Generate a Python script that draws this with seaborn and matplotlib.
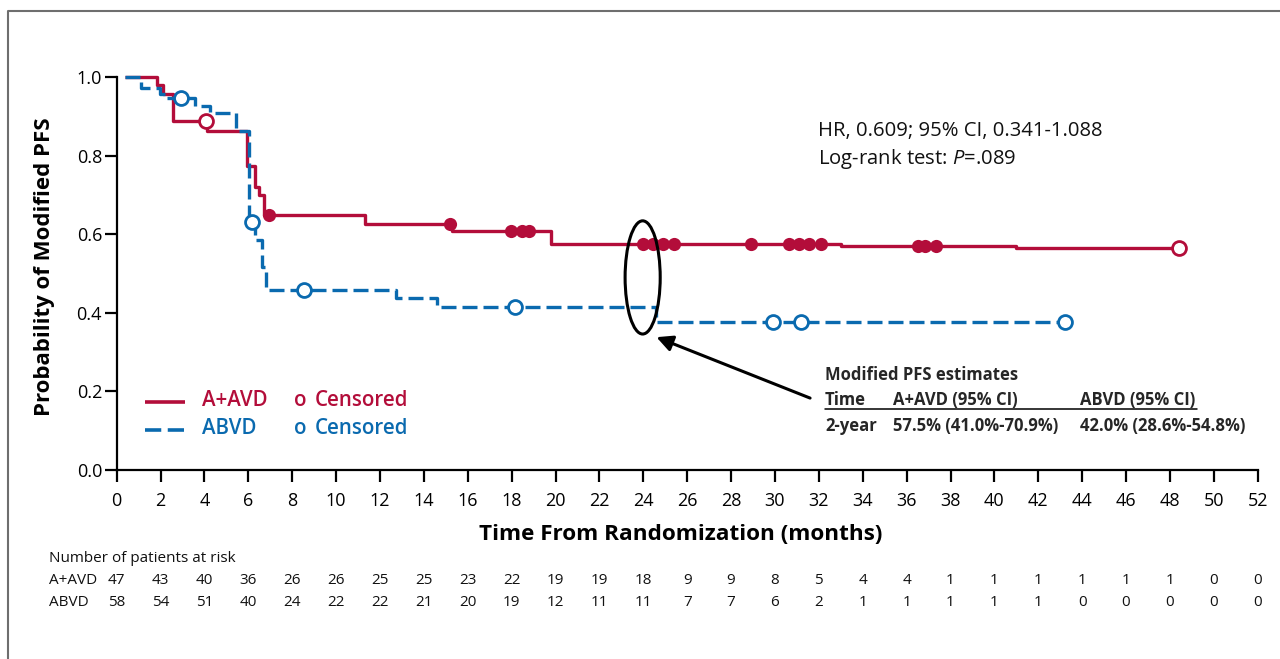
import numpy as np
import pandas as pd
import matplotlib
matplotlib.use("Agg")
import matplotlib.pyplot as plt
import matplotlib.transforms as mtrans
from matplotlib.lines import Line2D
from matplotlib.patches import Ellipse
import seaborn as sns

# ---------------- data ----------------
arms = ["A+AVD", "ABVD"]

aavd_time = [0.4, 1.85, 2.1, 2.55, 4.1, 5.95, 6.3, 6.5, 6.7, 11.3, 15.3, 19.8, 33.0, 41.0]
aavd_surv = [1.0, 0.979, 0.957, 0.888, 0.863, 0.774, 0.721, 0.700, 0.649, 0.627, 0.607, 0.575, 0.570, 0.564]
aavd_cens_filled = [6.95, 15.2, 17.95, 18.45, 18.8, 24.0, 24.45, 24.9, 25.4, 28.9,
                    30.65, 31.1, 31.55, 32.1, 36.5, 36.85, 37.35]
aavd_cens_open = [4.05, 48.4]

abvd_time = [0.4, 1.13, 1.96, 2.3, 3.55, 4.23, 5.43, 6.04, 6.3, 6.6, 6.8, 12.75, 14.6, 24.6]
abvd_surv = [1.0, 0.971, 0.958, 0.946, 0.926, 0.908, 0.863, 0.632, 0.585, 0.517, 0.458, 0.437, 0.415, 0.377]
abvd_cens_open = [2.94, 6.15, 8.55, 18.15, 29.9, 31.2, 43.2]

risk_times = list(range(0, 53, 2))
risk_aavd = [47, 43, 40, 36, 26, 26, 25, 25, 23, 22, 19, 19, 18, 9, 9, 8, 5, 4, 4, 1, 1, 1, 1, 1, 1, 0, 0]
risk_abvd = [58, 54, 51, 40, 24, 22, 22, 21, 20, 19, 12, 11, 11, 7, 7, 6, 2, 1, 1, 1, 1, 1, 0, 0, 0, 0, 0]

x_ticks = list(range(0, 53, 2))
y_ticks = [0.0, 0.2, 0.4, 0.6, 0.8, 1.0]

stats_lines = ["HR, 0.609; 95% CI, 0.341-1.088", "Log-rank test: $\\mathit{P}$=.089"]
table_title = "Modified PFS estimates"
table_header = ["Time", "A+AVD (95% CI)", "ABVD (95% CI)"]
table_row = ["2-year", "57.5% (41.0%-70.9%)", "42.0% (28.6%-54.8%)"]

# ---------------- style ----------------
sns.set_theme(style="ticks")
plt.rcParams["font.family"] = ["Open Sans", "DejaVu Sans"]
plt.rcParams["mathtext.fontset"] = "custom"
plt.rcParams["mathtext.rm"] = "Open Sans"
plt.rcParams["mathtext.it"] = "Open Sans:italic"

RED = "#B30D3A"
BLUE = "#0A6AAF"
W, H = 1280, 659

def px(x, y):
    return x / W, 1 - y / H

fig = plt.figure(figsize=(W / 100, H / 100), dpi=100)
fig.patch.set_facecolor("white")
ax = fig.add_axes([116.7 / W, 1 - 470 / H, (1257.7 - 116.7) / W, 393 / H])
ax.set_facecolor("white")

def step_frame(arm, t, s, last):
    tt = list(t) + [last]
    ss = list(s) + [s[-1]]
    return pd.DataFrame({"t": tt, "s": ss, "arm": arm})

df = pd.concat([
    step_frame("A+AVD", aavd_time, aavd_surv, max(aavd_cens_filled + aavd_cens_open)),
    step_frame("ABVD", abvd_time, abvd_surv, max(abvd_cens_open)),
], ignore_index=True)

sns.lineplot(data=df, x="t", y="s", hue="arm", style="arm", hue_order=arms,
             palette={"A+AVD": RED, "ABVD": BLUE},
             dashes={"A+AVD": "", "ABVD": (4.5, 1.8)},
             drawstyle="steps-post", linewidth=2.4, legend=False,
             estimator=None, sort=True, ax=ax)
for ln in ax.lines:
    ln.set_clip_on(False)
    ln.set_solid_capstyle("butt")
    ln.set_dash_capstyle("butt")

def surv_at(times, surv, t):
    idx = np.searchsorted(np.array(times), t, side="right") - 1
    return surv[max(idx, 0)]

cens = []
for t in aavd_cens_filled:
    cens.append(("A+AVD", "filled", t, surv_at(aavd_time, aavd_surv, t)))
for t in aavd_cens_open:
    cens.append(("A+AVD", "open", t, surv_at(aavd_time, aavd_surv, t)))
for t in abvd_cens_open:
    cens.append(("ABVD", "open", t, surv_at(abvd_time, abvd_surv, t)))
cdf = pd.DataFrame(cens, columns=["arm", "kind", "t", "s"])

f = cdf[cdf.kind == "filled"]
sns.scatterplot(data=f, x="t", y="s", color=RED, s=90, edgecolor=RED, linewidth=0,
                zorder=5, ax=ax, legend=False, clip_on=False)
o_red = cdf[(cdf.kind == "open") & (cdf.arm == "A+AVD")]
ax.scatter(o_red.t, o_red.s, s=100, facecolors="white", edgecolors=RED, linewidths=2.0,
           zorder=5, clip_on=False)
o_blue = cdf[(cdf.kind == "open") & (cdf.arm == "ABVD")]
ax.scatter(o_blue.t, o_blue.s, s=100, facecolors="white", edgecolors=BLUE, linewidths=2.0,
           zorder=5, clip_on=False)

# axes
ax.set_xlim(0, 52)
ax.set_ylim(0, 1.0)
ax.set_xticks(x_ticks)
ax.set_xticklabels([str(v) for v in x_ticks])
ax.set_yticks(y_ticks)
ax.set_yticklabels([f"{v:.1f}" for v in y_ticks])
sns.despine(ax=ax)
for sp in ["left", "bottom"]:
    ax.spines[sp].set_linewidth(1.6)
    ax.spines[sp].set_color("black")
ax.tick_params(axis="both", colors="black", width=1.6, length=8.5, labelsize=13)
ax.tick_params(axis="x", pad=7)
ax.tick_params(axis="y", pad=2)

ax.set_xlabel("Time From Randomization (months)", fontsize=16.2, fontweight="bold", color="black")
ax.xaxis.set_label_coords((681 - 116.7) / 1141, -(535 - 470) / 393)
ax.xaxis.label.set_va("center")
ax.set_ylabel("Probability of Modified PFS", fontsize=16, fontweight="bold", color="black")
ax.yaxis.set_label_coords((45 - 116.7) / 1141, (470 - 267) / 393)
ax.yaxis.label.set_va("center")

# ellipse & arrow
ax.add_patch(Ellipse((23.97, 0.49), 1.6, 0.288, fill=False, edgecolor="black", linewidth=2.2, zorder=6))
ax.annotate("", xy=(24.6, 0.338), xytext=(31.6, 0.183),
            arrowprops=dict(arrowstyle="-|>", color="black", lw=2.2, mutation_scale=24,
                            shrinkA=0, shrinkB=0), zorder=6)

# stats text
fig.text(*px(818, 131), stats_lines[0], fontsize=14.6, va="center", ha="left", color="#111111")
fig.text(*px(818, 159), stats_lines[1], fontsize=14.6, va="center", ha="left", color="#111111")

# estimates table
tfs = 12
fig.text(*px(825, 375), table_title, fontsize=tfs, fontweight="bold", va="center")
for xpx, txt in zip([825, 893, 1080], table_header):
    fig.text(*px(xpx, 400), txt, fontsize=tfs, fontweight="bold", va="center")
fig.add_artist(Line2D([825 / W, 1197 / W], [1 - 409 / H, 1 - 409 / H],
                      transform=fig.transFigure, color="black", lw=1.1))
for xpx, txt in zip([825, 893, 1080], table_row):
    fig.text(*px(xpx, 426), txt, fontsize=tfs, fontweight="bold", va="center")

# legend (manual)
fig.add_artist(Line2D([145 / W, 185 / W], [1 - 402 / H] * 2, transform=fig.transFigure,
                      color=RED, lw=2.6, solid_capstyle="butt"))
fig.add_artist(Line2D([145 / W, 185 / W], [1 - 430 / H] * 2, transform=fig.transFigure,
                      color=BLUE, lw=2.6, dashes=(4.5, 1.8), dash_capstyle="butt"))
lfs = 14.8
for ypx, name, col in [(400, "A+AVD", RED), (429, "ABVD", BLUE)]:
    fig.text(*px(202, ypx), name, fontsize=lfs, fontweight="semibold", color=col, va="center")
    fig.text(*px(294, ypx), "o", fontsize=lfs, fontweight="semibold", color=col, va="center")
    fig.text(*px(315, ypx), "Censored", fontsize=lfs, fontweight="semibold", color=col, va="center")

# at-risk table
rfs = 11
fig.text(*px(49, 558), "Number of patients at risk", fontsize=rfs, va="center", color="#111111")
fig.text(*px(49, 581), "A+AVD", fontsize=rfs, va="center", color="#111111")
fig.text(*px(49, 603), "ABVD", fontsize=rfs, va="center", color="#111111")
btr = mtrans.blended_transform_factory(ax.transData, fig.transFigure)
for t, a, b in zip(risk_times, risk_aavd, risk_abvd):
    ax.text(t, 1 - 581 / H, str(a), transform=btr, fontsize=rfs, ha="center", va="center", color="#111111")
    ax.text(t, 1 - 603 / H, str(b), transform=btr, fontsize=rfs, ha="center", va="center", color="#111111")

# outer frame (top and left)
fig.add_artist(Line2D([8 / W, 8 / W, 1.0], [0.0, 1 - 11 / H, 1 - 11 / H],
                      transform=fig.transFigure, color="#6e6e6e", lw=1.5))

fig.savefig("out.png", dpi=100, facecolor="white")
